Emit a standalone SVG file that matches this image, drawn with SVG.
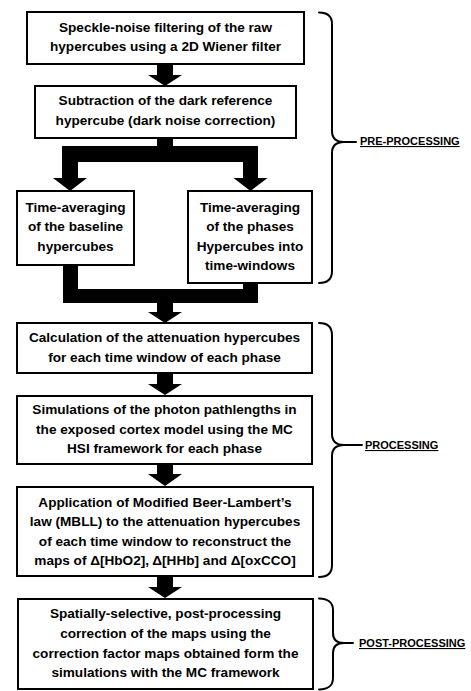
<svg xmlns="http://www.w3.org/2000/svg" width="471" height="691" viewBox="0 0 471 691">
  <style>
    .box { fill: #ffffff; stroke: #000000; stroke-width: 2; }
    .txt { font-family: "Liberation Sans", Arial, sans-serif; font-weight: bold; font-size: 13.6px; fill: #000000; text-anchor: middle; }
    .lbl { font-family: "Liberation Sans", Arial, sans-serif; font-weight: bold; font-size: 11px; fill: #000000; text-decoration: underline; }
    .brace { fill: none; stroke: #000000; stroke-width: 2; stroke-linecap: round; stroke-linejoin: round; }
    .arrow { fill: #000000; stroke: none; }
  </style>

  <!-- thick block connectors -->
  <g id="connectors">
    <polygon class="arrow" points="157,64 173,64 173,75 182,75 165,86 148,75 157,75"/>
    <!-- split into the two averaging branches -->
    <polygon class="arrow" points="157,138 173,138 173,146 258,146 258,178 267.5,178 250.5,191 233.5,178 243,178 243,162 78,162 78,178 87,178 70,191 53,178 62,178 62,146 157,146"/>
    <!-- merge of the two branches -->
    <polygon class="arrow" points="63,265 78,265 78,289 243,289 243,283 258,283 258,303 173,303 173,312 182,312 165,323 148,312 157,312 157,303 63,303"/>
    <polygon class="arrow" points="157,373 173,373 173,384 182,384 165,395 148,384 157,384"/>
    <polygon class="arrow" points="157,464 173,464 173,474 182,474 165,486 148,474 157,474"/>
    <polygon class="arrow" points="157,576 173,576 173,587 182,587 165,598 148,587 157,587"/>
  </g>

  <g id="n1">
    <rect class="box" x="27" y="12" width="277" height="52"/>
    <text class="txt" x="165.5" y="31.5">Speckle-noise filtering of the raw</text>
    <text class="txt" x="165.5" y="51">hypercubes using a 2D Wiener filter</text>
  </g>

  <g id="n2">
    <rect class="box" x="35" y="86" width="261" height="52"/>
    <text class="txt" x="165.5" y="105">Subtraction of the dark reference</text>
    <text class="txt" x="165.5" y="124.5">hypercube (dark noise correction)</text>
  </g>

  <g id="n3">
    <rect class="box" x="17" y="191" width="117" height="74"/>
    <text class="txt" x="75.5" y="211.5">Time-averaging</text>
    <text class="txt" x="75.5" y="231">of the baseline</text>
    <text class="txt" x="75.5" y="250.5">hypercubes</text>
  </g>

  <g id="n4">
    <rect class="box" x="188" y="191" width="124" height="92"/>
    <text class="txt" x="250" y="211.5">Time-averaging</text>
    <text class="txt" x="250" y="231">of the phases</text>
    <text class="txt" x="250" y="250.5">Hypercubes into</text>
    <text class="txt" x="250" y="270">time-windows</text>
  </g>

  <g id="n5">
    <rect class="box" x="17" y="323" width="295" height="50"/>
    <text class="txt" x="164.5" y="341.5">Calculation of the attenuation hypercubes</text>
    <text class="txt" x="164.5" y="361.5">for each time window of each phase</text>
  </g>

  <g id="n6">
    <rect class="box" x="17" y="396" width="295" height="68"/>
    <text class="txt" x="164.5" y="414">Simulations of the photon pathlengths in</text>
    <text class="txt" x="164.5" y="433.5">the exposed cortex model using the MC</text>
    <text class="txt" x="164.5" y="453">HSI framework for each phase</text>
  </g>

  <g id="n7">
    <rect class="box" x="17" y="487" width="296" height="89"/>
    <text class="txt" x="165" y="506.5">Application of Modified Beer-Lambert’s</text>
    <text class="txt" x="165" y="526">law (MBLL) to the attenuation hypercubes</text>
    <text class="txt" x="165" y="545.5">of each time window to reconstruct the</text>
    <text class="txt" x="165" y="565">maps of Δ[HbO2], Δ[HHb] and Δ[oxCCO]</text>
  </g>

  <g id="n8">
    <rect class="box" x="18" y="599" width="295" height="90"/>
    <text class="txt" x="165.5" y="618">Spatially-selective, post-processing</text>
    <text class="txt" x="165.5" y="638">correction of the maps using the</text>
    <text class="txt" x="165.5" y="657.5">correction factor maps obtained form the</text>
    <text class="txt" x="165.5" y="677">simulations with the MC framework</text>
  </g>

  <!-- stage braces and labels -->
  <g id="stage-pre">
    <path class="brace" d="M319,12.5 C327,12.5 332,16 332,24 L332,131 C332,138 336,142 344,142 C336,142 332,146 332,153 L332,271 C332,279 327,283 319,283 M344,142 H356"/>
    <text class="lbl" x="360" y="145">PRE-PROCESSING</text>
  </g>

  <g id="stage-processing">
    <path class="brace" d="M319,323 C327,323 332,327 332,335 L332,434 C332,441 336,445 344,445 C336,445 332,449 332,456 L332,565 C332,573 327,577 319,577 M344,445 H362"/>
    <text class="lbl" x="365" y="449">PROCESSING</text>
  </g>

  <g id="stage-post">
    <path class="brace" d="M319,598.5 C327,598.5 333,602 333,610 L333,633 C333,640 337,643 344,643 C337,643 333,646 333,653 L333,678 C333,686 327,689.5 319,689.5 M344,643 H353"/>
    <text class="lbl" x="359" y="647">POST-PROCESSING</text>
  </g>
</svg>
